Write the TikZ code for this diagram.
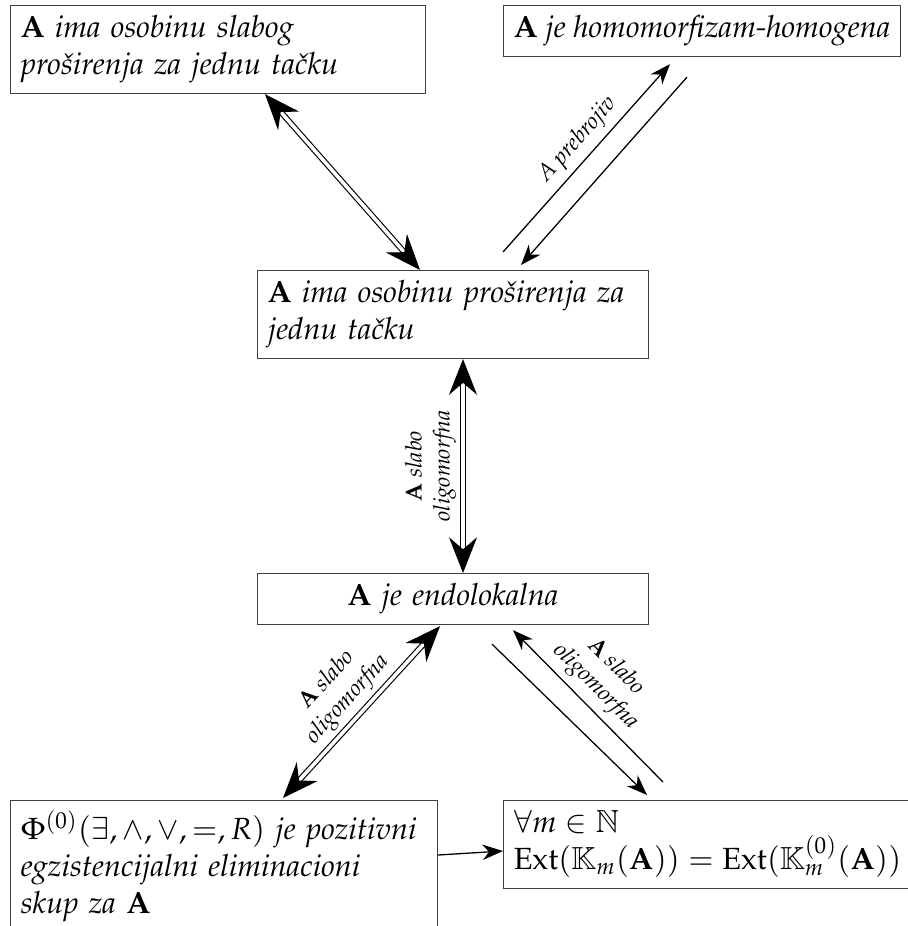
\documentclass[tikz,border=0pt]{standalone}
\usepackage[T1]{fontenc}
\usepackage{mathpazo}
\usetikzlibrary{arrows.meta,calc}
\DeclareMathAlphabet{\bbfont}{U}{msb}{m}{n}
\tikzset{
  box/.style={draw=black!75,line width=0.45pt,anchor=north west,inner sep=4pt,font=\fontsize{12}{14.5}\selectfont},
  dbl/.style={double,line width=0.45pt,double distance=1.4pt,{Stealth[length=14pt,width=11pt,inset=4.7pt]}-{Stealth[length=14pt,width=11pt,inset=4.7pt]}},
  thinarr/.style={line width=0.5pt},
  lbl/.style={font=\fontsize{9}{11}\selectfont,align=center,sloped,inner sep=2.5pt}
}
\begin{document}
\begin{tikzpicture}[x=0.392pt,y=-0.392pt,>={Stealth[length=8pt,width=6pt,inset=2.5pt]}]
\useasboundingbox (0,0) rectangle (908,926);
% Statements
\node[box,text width=154.7pt,align=left] (b1) at (10,5) {\textbf{A} \textit{ima osobinu slabog}\\\textit{pro\v{s}irenja za jednu ta\v{c}ku}};
\node[box] (b2) at (503,5) {\textbf{A} \textit{je homomorfizam-homogena}};
\node[box,text width=145.3pt,align=left] (b3) at (257,270) {\textbf{A} \textit{ima osobinu pro\v{s}irenja za}\\\textit{jednu ta\v{c}ku}};
\node[box,text width=145.3pt,align=center] (b4) at (257,573) {\textbf{A} \textit{je endolokalna}};
\node[box,text width=159.4pt,align=left] (b5) at (10,800) {$\Phi^{(0)}(\exists,\wedge,\vee,=,R)$ \textit{je pozitivni}\\\textit{egzistencijalni eliminacioni}\\\textit{skup za} $\mathbf{A}$\\\strut};
\node[box,align=left] (b6) at (503,800) {$\forall m\in\bbfont{N}$\\$\mathrm{Ext}(\bbfont{K}_m(\mathbf{A}))=\mathrm{Ext}(\bbfont{K}^{(0)}_m(\mathbf{A}))$};
% Equivalences
\draw[dbl] ($(b1.south west)+(255,0)$) -- ($(b3.north west)+(163,0)$);
\draw[dbl] ($(b4.north west)+(206,0)$) -- node[lbl,above,midway] {\textbf{A} \textit{slabo}\\\textit{oligomorfna}} ($(b3.south west)+(206,0)$);
\draw[dbl] ($(b5.north west)+(273,-2)$) -- node[lbl,above,midway] {\textbf{A} \textit{slabo}\\\textit{oligomorfna}} ($(b4.south west)+(183,1)$);
% Implications
\draw[thinarr,->] ($(b3.north west)+(246,-18)$) -- node[lbl,above,pos=0.53] {\textit{A prebrojiv}} ($(b2.south west)+(167,7)$);
\draw[thinarr,->] ($(b2.south west)+(184,20)$) -- ($(b3.north west)+(264,-5)$);
\draw[thinarr,<-] ($(b4.south west)+(256,5)$) -- node[lbl,above,pos=0.46] {\textbf{A} \textit{slabo}\\\textit{oligomorfna}} ($(b6.north west)+(160,-18)$);
\draw[thinarr,->] ($(b4.south west)+(235,19)$) -- ($(b6.north west)+(144,-5)$);
\draw[thinarr,->] ($(b5.north east)+(0,55)$) -- ($(b6.north west)+(0,51)$);
\end{tikzpicture}
\end{document}
